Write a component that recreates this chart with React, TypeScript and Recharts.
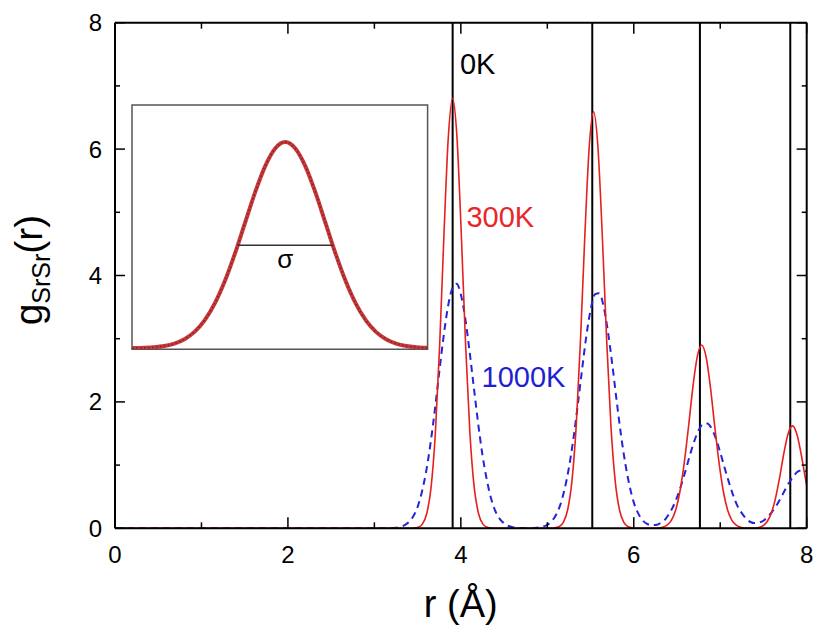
import React from 'react';
import { LineChart, Line, XAxis, YAxis, ReferenceLine, ReferenceDot, ReferenceArea } from 'recharts';

const FONT = '"Liberation Sans", Arial, Helvetica, sans-serif';

// ---- 300 K curve (red, solid) ----
const r300 = [0, 3.3, 3.405, 3.455, 3.505, 3.555, 3.605, 3.655, 3.705, 3.755, 3.805, 3.855, 3.905, 3.955, 4.005, 4.055, 4.105, 4.155, 4.205, 4.255, 4.305, 4.355, 4.405, 4.9, 5.035, 5.085, 5.135, 5.185, 5.235, 5.285, 5.335, 5.385, 5.435, 5.485, 5.535, 5.585, 5.635, 5.685, 5.735, 5.785, 5.835, 5.885, 5.935, 5.985, 6.035, 6.15, 6.235, 6.285, 6.335, 6.385, 6.435, 6.485, 6.535, 6.585, 6.635, 6.685, 6.735, 6.785, 6.835, 6.885, 6.935, 6.985, 7.035, 7.085, 7.135, 7.185, 7.235, 7.285, 7.335, 7.385, 7.435, 7.485, 7.535, 7.585, 7.635, 7.685, 7.735, 7.785, 7.835, 7.885, 7.935, 7.985, 8.0];
const g300 = [0, 0, 0, 0.003, 0.016, 0.066, 0.23, 0.64, 1.5, 2.9, 4.66, 6.19, 6.8, 6.19, 4.66, 2.9, 1.5, 0.64, 0.23, 0.066, 0.016, 0.003, 0, 0, 0.001, 0.006, 0.025, 0.094, 0.29, 0.75, 1.64, 3.02, 4.66, 6.04, 6.59, 6.04, 4.66, 3.02, 1.64, 0.75, 0.29, 0.094, 0.025, 0.006, 0.001, 0, 0.001, 0.005, 0.017, 0.049, 0.127, 0.29, 0.59, 1.05, 1.63, 2.25, 2.72, 2.9, 2.72, 2.25, 1.63, 1.05, 0.59, 0.29, 0.127, 0.049, 0.017, 0.005, 0.002, 0.002, 0.01, 0.032, 0.091, 0.22, 0.45, 0.79, 1.18, 1.495, 1.62, 1.495, 1.18, 0.79, 0.68];

// ---- 1000 K curve (blue, dashed) ----
const r1000 = [0, 3.0, 3.1, 3.2, 3.25, 3.3, 3.35, 3.4, 3.45, 3.5, 3.55, 3.6, 3.65, 3.7, 3.75, 3.8, 3.85, 3.9, 3.95, 4.0, 4.05, 4.1, 4.15, 4.2, 4.25, 4.3, 4.35, 4.4, 4.45, 4.5, 4.55, 4.6, 4.65, 4.7, 4.75, 4.8, 4.85, 4.9, 4.95, 5.0, 5.05, 5.1, 5.15, 5.2, 5.25, 5.3, 5.35, 5.4, 5.45, 5.5, 5.55, 5.6, 5.65, 5.7, 5.75, 5.8, 5.85, 5.9, 5.95, 6.0, 6.05, 6.1, 6.15, 6.2, 6.25, 6.3, 6.35, 6.4, 6.45, 6.5, 6.55, 6.6, 6.65, 6.7, 6.75, 6.8, 6.85, 6.9, 6.95, 7.0, 7.05, 7.1, 7.15, 7.2, 7.25, 7.3, 7.35, 7.4, 7.45, 7.5, 7.55, 7.6, 7.65, 7.7, 7.75, 7.8, 7.85, 7.9, 7.95, 8.0];
const g1000 = [0, 0, 0.001, 0.004, 0.01, 0.023, 0.05, 0.1, 0.19, 0.34, 0.58, 0.91, 1.35, 1.88, 2.47, 3.03, 3.5, 3.79, 3.87, 3.7, 3.33, 2.81, 2.23, 1.66, 1.16, 0.77, 0.47, 0.27, 0.15, 0.077, 0.037, 0.017, 0.007, 0.003, 0.001, 0.002, 0.005, 0.012, 0.026, 0.056, 0.11, 0.21, 0.37, 0.62, 0.96, 1.4, 1.93, 2.49, 3.03, 3.45, 3.7, 3.72, 3.52, 3.12, 2.61, 2.04, 1.5, 1.04, 0.68, 0.41, 0.24, 0.13, 0.073, 0.05, 0.051, 0.075, 0.12, 0.21, 0.33, 0.49, 0.69, 0.92, 1.16, 1.38, 1.55, 1.65, 1.66, 1.58, 1.42, 1.2, 0.96, 0.73, 0.52, 0.35, 0.24, 0.15, 0.1, 0.082, 0.091, 0.12, 0.185, 0.26, 0.36, 0.48, 0.61, 0.73, 0.83, 0.9, 0.92, 0.9];

// ---- 0 K delta peaks (black vertical lines) ----
const zeroKPeaks = [3.905, 5.52, 6.765, 7.81];

// ---- axes ----
const xTicks = [0, 1, 2, 3, 4, 5, 6, 7, 8];
const yTicks = [0, 1, 2, 3, 4, 5, 6, 7, 8];
const majorTickLabels = [0, 2, 4, 6, 8];

// ---- curve labels ----
const curveLabels = [
  { text: '0K', r: 3.99, g: 7.19, color: '#000000' },
  { text: '300K', r: 4.065, g: 4.77, color: '#e8262a' },
  { text: '1000K', r: 4.24, g: 2.236, color: '#1f1fd2' },
];

// ---- inset (normalised Gaussian peak) ----
const insetX = [-3.8, -3.5, -3.25, -3, -2.75, -2.5, -2.25, -2, -1.75, -1.5, -1.25, -1, -0.75, -0.5, -0.25, 0, 0.25, 0.5, 0.75, 1, 1.25, 1.5, 1.75, 2, 2.25, 2.5, 2.75, 3, 3.25, 3.53];
const insetY = [0.0007, 0.0022, 0.0051, 0.0111, 0.0228, 0.0439, 0.0796, 0.1353, 0.2163, 0.3247, 0.4578, 0.6065, 0.7548, 0.8825, 0.9692, 1, 0.9692, 0.8825, 0.7548, 0.6065, 0.4578, 0.3247, 0.2163, 0.1353, 0.0796, 0.0439, 0.0228, 0.0111, 0.0051, 0.002];
const insetSigmaEnds = [-1.1774, 1.1774];
const insetHalfMax = 0.5;

const zip = (xs: number[], ys: number[]) => xs.map((r, i) => ({ r, g: ys[i] }));
const data300 = zip(r300, g300);
const data1000 = zip(r1000, g1000);
const insetData = insetX.map((x, i) => ({ x, y: insetY[i] }));

const isMajor = (v: number) => majorTickLabels.includes(v);

const TickBottom = (props: any) => {
  const { x, y, payload } = props;
  const major = isMajor(payload.value);
  return (
    <g>
      <line x1={x} x2={x} y1={y} y2={y - (major ? 11 : 6)} stroke="#000" strokeWidth={1.5} />
      {major && (
        <text x={x} y={y + 35} textAnchor="middle" fontSize={24} fontFamily={FONT} fill="#000">
          {payload.value}
        </text>
      )}
    </g>
  );
};
const TickTop = (props: any) => {
  const { x, y, payload } = props;
  const major = isMajor(payload.value);
  return <line x1={x} x2={x} y1={y} y2={y + (major ? 11 : 6)} stroke="#000" strokeWidth={1.5} />;
};
const TickLeft = (props: any) => {
  const { x, y, payload } = props;
  const major = isMajor(payload.value);
  return (
    <g>
      <line x1={x} x2={x + (major ? 10 : 5)} y1={y} y2={y} stroke="#000" strokeWidth={1.5} />
      {major && (
        <text x={x - 13} y={y + 8.5} textAnchor="end" fontSize={24} fontFamily={FONT} fill="#000">
          {payload.value}
        </text>
      )}
    </g>
  );
};
const TickRight = (props: any) => {
  const { x, y, payload } = props;
  const major = isMajor(payload.value);
  return <line x1={x} x2={x - (major ? 10 : 5)} y1={y} y2={y} stroke="#000" strokeWidth={1.5} />;
};

const YLabel = () => (
  <text
    x={33.5}
    y={262}
    transform="rotate(-90, 33.5, 262)"
    textAnchor="middle"
    fontFamily={FONT}
    fill="#000"
    fontSize={39}
  >
    g
    <tspan fontSize={25} dy={8.5}>SrSr</tspan>
    <tspan fontSize={39} dy={-8.5}>(r)</tspan>
  </text>
);

const XLabel = () => (
  <text x={452.8} y={609} textAnchor="middle" fontFamily={FONT} fill="#000" fontSize={38}>
    r (Å)
  </text>
);

const makeCurveLabel = (text: string, color: string) => (props: any) => {
  const vb = props.viewBox || {};
  return (
    <text x={vb.x} y={vb.y} textAnchor="start" fontFamily={FONT} fontSize={29} fill={color}>
      {text}
    </text>
  );
};

const axisLine = { stroke: '#000', strokeWidth: 2 };

export default function App() {
  return (
    <div style={{ position: 'relative', width: 799, height: 612 }}>
      <style>{`html, body, #root { overflow: visible !important; } .recharts-wrapper, .recharts-surface { overflow: visible !important; }`}</style>
      <LineChart
        width={799}
        height={612}
        margin={{ top: 13.7, right: 0, left: 0, bottom: 0 }}
      >
        <XAxis
          xAxisId={0}
          type="number"
          dataKey="r"
          domain={[0, 8]}
          ticks={xTicks}
          interval={0}
          allowDataOverflow
          height={91.7}
          tickSize={0}
          tickMargin={0}
          axisLine={axisLine}
          tickLine={false}
          tick={<TickBottom />}
          label={{ content: () => <XLabel /> }}
        />
        <XAxis
          xAxisId="top"
          orientation="top"
          type="number"
          dataKey="r"
          domain={[0, 8]}
          ticks={xTicks}
          interval={0}
          allowDataOverflow
          height={1}
          tickSize={0}
          tickMargin={0}
          axisLine={axisLine}
          tickLine={false}
          tick={<TickTop />}
        />
        <YAxis
          yAxisId={0}
          type="number"
          domain={[0, 8]}
          ticks={yTicks}
          interval={0}
          allowDataOverflow
          width={107}
          tickSize={0}
          tickMargin={0}
          axisLine={axisLine}
          tickLine={false}
          tick={<TickLeft />}
          label={{ content: () => <YLabel /> }}
        />
        <YAxis
          yAxisId="right"
          orientation="right"
          type="number"
          domain={[0, 8]}
          ticks={yTicks}
          interval={0}
          allowDataOverflow
          width={0.3}
          tickSize={0}
          tickMargin={0}
          axisLine={axisLine}
          tickLine={false}
          tick={<TickRight />}
        />
        {zeroKPeaks.map((p) => (
          <ReferenceLine key={p} x={p} xAxisId={0} yAxisId={0} stroke="#000" strokeWidth={2} />
        ))}
        {/* invisible copy bound to the mirrored top/right axes so they get ticks */}
        <Line
          data={data300}
          dataKey="g"
          xAxisId="top"
          yAxisId="right"
          type="monotone"
          stroke="none"
          strokeWidth={0}
          dot={false}
          activeDot={false}
          legendType="none"
          isAnimationActive={false}
        />
        <Line
          data={data1000}
          dataKey="g"
          xAxisId={0}
          yAxisId={0}
          type="monotone"
          stroke="#2424d8"
          strokeWidth={2}
          strokeDasharray="7 5"
          dot={false}
          activeDot={false}
          isAnimationActive={false}
        />
        <Line
          data={data300}
          dataKey="g"
          xAxisId={0}
          yAxisId={0}
          type="monotone"
          stroke="#e5201e"
          strokeWidth={1.6}
          dot={false}
          activeDot={false}
          isAnimationActive={false}
        />
        {curveLabels.map((c) => (
          <ReferenceDot
            key={c.text}
            x={c.r}
            y={c.g}
            r={0}
            xAxisId={0}
            yAxisId={0}
            fill="none"
            stroke="none"
            label={{ content: makeCurveLabel(c.text, c.color) }}
          />
        ))}
      </LineChart>

      <div style={{ position: 'absolute', left: 121.7, top: 95 }}>
        <LineChart width={299.6} height={248.3} margin={{ top: 2, right: 2, left: 2, bottom: 2 }} data={insetData}>
          <XAxis type="number" dataKey="x" domain={[-3.8, 3.53]} hide allowDataOverflow />
          <YAxis type="number" domain={[-0.005, 1.18]} hide allowDataOverflow />
          <ReferenceArea x1={-3.8} x2={3.53} y1={-0.005} y2={1.18} fill="none" fillOpacity={0} stroke="#555" strokeWidth={1.5} />
          <Line
            dataKey="y"
            type="monotone"
            stroke="#c8383a"
            strokeWidth={4}
            dot={false}
            activeDot={false}
            isAnimationActive={false}
          />
          <Line
            dataKey="y"
            type="monotone"
            stroke="#3a1a1a"
            strokeOpacity={0.55}
            strokeWidth={1.6}
            strokeDasharray="1.5 2.5"
            dot={false}
            activeDot={false}
            isAnimationActive={false}
          />
          <ReferenceLine
            segment={[{ x: insetSigmaEnds[0], y: insetHalfMax }, { x: insetSigmaEnds[1], y: insetHalfMax }]}
            stroke="#333"
            strokeWidth={1.5}
          />
          <ReferenceDot
            x={0}
            y={insetHalfMax}
            r={0}
            fill="none"
            stroke="none"
            label={{
              content: (p: any) => (
                <text x={(p.viewBox || {}).x} y={((p.viewBox || {}).y || 0) + 23} textAnchor="middle" fontFamily={FONT} fontSize={26} fill="#000">
                  σ
                </text>
              ),
            }}
          />
        </LineChart>
      </div>
    </div>
  );
}
